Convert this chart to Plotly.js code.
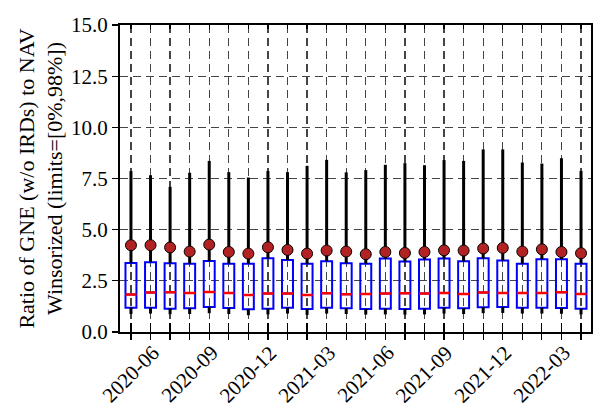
<!DOCTYPE html>
<html>
<head>
<meta charset="utf-8">
<script src="https://cdn.plot.ly/plotly-3.0.1.min.js"></script>
<style>html,body{margin:0;padding:0;background:#fff;}#chart{width:594px;height:412px;}</style>
</head>
<body>
<div id="chart"></div>
<script>
// Months (one box per month)
const months = ["2020-06","2020-07","2020-08","2020-09","2020-10","2020-11","2020-12",
  "2021-01","2021-02","2021-03","2021-04","2021-05","2021-06","2021-07","2021-08","2021-09",
  "2021-10","2021-11","2021-12","2022-01","2022-02","2022-03","2022-04","2022-05"];
// Box statistics per month
const lowerWhisker = [0.88,0.90,0.87,0.88,0.92,0.88,0.82,0.86,0.90,0.84,0.90,0.88,0.85,0.86,0.85,0.86,0.90,0.88,0.92,0.93,0.90,0.90,0.89,0.86];
const q1 = [1.19,1.19,1.14,1.16,1.22,1.17,1.11,1.14,1.19,1.12,1.19,1.16,1.12,1.14,1.12,1.14,1.19,1.16,1.21,1.22,1.19,1.19,1.17,1.14];
const median = [1.83,1.93,1.94,1.91,1.96,1.91,1.81,1.88,1.88,1.81,1.89,1.84,1.86,1.88,1.89,1.88,1.91,1.86,1.93,1.91,1.91,1.91,1.94,1.86];
const q3 = [3.37,3.41,3.36,3.34,3.47,3.34,3.33,3.60,3.52,3.33,3.46,3.36,3.34,3.59,3.44,3.54,3.59,3.46,3.60,3.49,3.33,3.56,3.56,3.34];
const upperWhisker = [7.86,7.66,7.09,7.78,8.36,7.81,7.55,7.87,7.81,8.12,8.41,7.80,7.91,8.17,8.25,8.15,8.40,8.36,8.92,8.92,8.28,8.23,8.49,7.87];
const mean = [4.24,4.24,4.13,3.93,4.27,3.91,3.83,4.14,4.01,3.83,3.98,3.93,3.80,3.91,3.86,3.91,3.99,3.98,4.08,4.11,3.93,4.04,3.91,3.85];
// Tick labels (every third month)
const labelEvery = 3;
const yTickVals = [0, 2.5, 5, 7.5, 10, 12.5, 15];

const idx = months.map((m, i) => i);
const FONT = "Liberation Serif";

// whiskers as line segments
const wx = [], wy = [];
idx.forEach(i => {
  wx.push(i, i, null, i, i, null);
  wy.push(lowerWhisker[i], q1[i], null, q3[i], upperWhisker[i], null);
});

const boxW = 0.56;
const traces = [
  {type:'scatter', mode:'lines', x: wx, y: wy, line:{color:'#000', width:3}, hoverinfo:'skip', showlegend:false, connectgaps:false},
  {type:'box', x: idx, q1: q1, median: median, q3: q3, lowerfence: q1, upperfence: q3,
   width: boxW, whiskerwidth: 0, boxpoints: false, line:{color:'#0000ff', width:2},
   fillcolor:'rgba(0,0,0,0)', showlegend:false, hoverinfo:'skip'},
  {type:'box', x: idx, q1: median, median: median, q3: median, lowerfence: median, upperfence: median,
   width: boxW, whiskerwidth: 0, boxpoints: false, line:{color:'#ff0000', width:2.5},
   fillcolor:'rgba(0,0,0,0)', showlegend:false, hoverinfo:'skip'},
  {type:'scatter', mode:'markers', x: idx, y: mean,
   marker:{size:11, color:'#b22222', line:{color:'#000', width:1}}, hoverinfo:'skip', showlegend:false},
  {type:'scatter', mode:'markers', x:[null], y:[null], xaxis:'x2', hoverinfo:'skip', showlegend:false},
  {type:'scatter', mode:'markers', x:[null], y:[null], xaxis:'x3', hoverinfo:'skip', showlegend:false}
];

const xr = [-0.56, 23.51];
const annotations = idx.filter(i => i % labelEvery === 0).map(i => ({
  x: i, xref:'x', y: -0.02, yref:'paper', text: months[i], showarrow:false,
  textangle: -45, xanchor:'center', yanchor:'top', font:{family:FONT, size:21, color:'#000'}
}));

const layout = {
  width: 594, height: 412,
  margin: {l:120, r:3, t:25, b:80},
  paper_bgcolor:'#fff', plot_bgcolor:'#fff',
  font: {family: FONT, size: 21, color:'#000'},
  boxmode: 'overlay',
  showlegend: false,
  xaxis: {
    type:'linear', range: xr, tickmode:'array', tickvals: idx, ticktext: idx.map(() => ''),
    showticklabels:false, ticks:'outside', ticklen:6, tickwidth:1.2, tickcolor:'#000',
    showgrid:true, gridcolor:'#444', griddash:'8px,5px', gridwidth:1.2,
    showline:true, linecolor:'#000', linewidth:2, mirror:true, zeroline:false
  },
  xaxis2: {
    overlaying:'x', anchor:'y', side:'bottom', type:'linear', range: xr, tickmode:'array', tickvals: idx,
    showticklabels:false, ticks:'inside', ticklen:9, tickwidth:1.2, tickcolor:'#000',
    showgrid:false, showline:false, zeroline:false
  },
  xaxis3: {
    overlaying:'x', anchor:'y', side:'top', type:'linear', range: xr, tickmode:'array', tickvals: idx,
    showticklabels:false, ticks:'inside', ticklen:4, tickwidth:1.2, tickcolor:'#000',
    showgrid:false, showline:false, zeroline:false
  },
  yaxis: {
    range:[0,15], tickmode:'array', tickvals: yTickVals, ticktext: yTickVals.map(v => v.toFixed(1)),
    ticks:'outside', ticklen:6, tickwidth:1.2, tickcolor:'#000',
    showgrid:true, gridcolor:'#444', griddash:'8px,5px', gridwidth:1.2,
    showline:true, linecolor:'#000', linewidth:2, mirror:true, zeroline:false,
    tickfont:{family:FONT, size:21, color:'#000'},
    title:{text:'Ratio of GNE (w/o IRDs) to NAV<br>Winsorized (limits=[0%,98%])', standoff: 2,
      font:{family:FONT, size:22, color:'#000'}}
  },
  annotations: annotations
};

Plotly.newPlot('chart', traces, layout, {displayModeBar:false, staticPlot:true});
</script>
</body>
</html>
